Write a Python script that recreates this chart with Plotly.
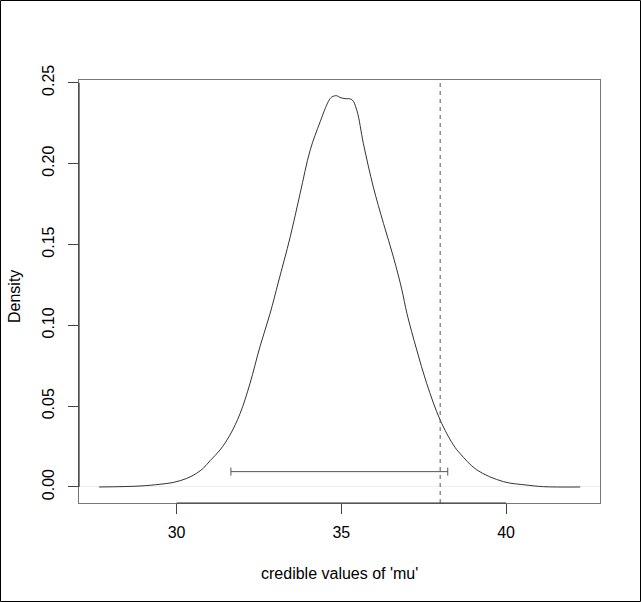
import plotly.graph_objects as go

# Density curve
mu_x = [27.65, 28.89, 29.50, 29.90, 30.31, 30.61, 30.81, 31.02, 31.32, 31.62,
        31.93, 32.23, 32.53, 32.84, 33.09, 33.45, 33.75, 34.05, 34.36, 34.61,
        34.71, 34.86, 34.96, 35.11, 35.32, 35.47, 35.67, 35.97, 36.28, 36.58,
        36.84, 36.99, 37.29, 37.59, 38.00, 38.40, 38.60, 39.11, 39.92, 40.63,
        41.13, 42.25]
density = [0.0000, 0.0006, 0.0017, 0.0028, 0.0053, 0.0085, 0.0116, 0.0163, 0.0229, 0.0321,
           0.0455, 0.0641, 0.0867, 0.1074, 0.1267, 0.1547, 0.1815, 0.2080, 0.2260, 0.2385,
           0.2412, 0.2420, 0.2409, 0.2402, 0.2396, 0.2330, 0.2124, 0.1856, 0.1630, 0.1423,
           0.1218, 0.1074, 0.0847, 0.0641, 0.0414, 0.0260, 0.0208, 0.0106, 0.0033, 0.0012,
           0.0002, 0.0000]

hdi_low = 31.65
hdi_high = 38.23
hdi_y = 0.0095
comp_value = 38.0

x_ticks = [30, 35, 40]
y_ticks = [0.00, 0.05, 0.10, 0.15, 0.20, 0.25]
y_tick_labels = ["0.00", "0.05", "0.10", "0.15", "0.20", "0.25"]

x_range = [27.04, 42.85]
y_range = [-0.0099, 0.2517]

W, H = 641, 602
L, R, T, B = 79, 41, 80, 99
PW, PH = W - L - R, H - T - B

FONT = "Liberation Sans, Arial, Helvetica, sans-serif"

fig = go.Figure()

fig.add_trace(go.Scatter(
    x=mu_x, y=density, mode="lines",
    line=dict(color="#333333", width=1, shape="spline", smoothing=1.0),
    hoverinfo="skip", showlegend=False))

hdi_mid = (hdi_low + hdi_high) / 2
fig.add_trace(go.Scatter(
    x=[hdi_mid], y=[hdi_y], mode="markers",
    marker=dict(size=1, opacity=0),
    error_x=dict(type="data", symmetric=False,
                 array=[hdi_high - hdi_mid], arrayminus=[hdi_mid - hdi_low],
                 color="#555555", thickness=1, width=4),
    hoverinfo="skip", showlegend=False))

shapes = []
# dashed comparison line spanning the plot area
shapes.append(dict(type="line", xref="x", yref="paper", x0=comp_value, x1=comp_value,
                   y0=0, y1=1, line=dict(color="#555555", width=1, dash="4px,4px")))
# axis segments between first and last ticks (R style)
shapes.append(dict(type="line", xref="x", yref="paper", x0=min(x_ticks), x1=max(x_ticks),
                   y0=0, y1=0, line=dict(color="#333333", width=1.2)))
shapes.append(dict(type="line", xref="paper", yref="y", x0=0, x1=0,
                   y0=min(y_ticks), y1=max(y_ticks), line=dict(color="#333333", width=1.2)))
# outer figure border
shapes.append(dict(type="rect", xref="paper", yref="paper",
                   x0=-(L - 0.5) / PW, x1=(W - 0.5 - L) / PW,
                   y0=-(B - 0.5) / PH, y1=(H - 0.5 - B) / PH,
                   line=dict(color="#000000", width=1), fillcolor="rgba(0,0,0,0)"))

annotations = [
    dict(text="credible values of 'mu'", xref="paper", yref="paper",
         x=0.5, y=-(573 - (H - B)) / PH, xanchor="center", yanchor="middle",
         showarrow=False, font=dict(family=FONT, size=16, color="#000000")),
    dict(text="Density", xref="paper", yref="paper",
         x=(14 - L) / PW, y=0.5 - (297 - (T + PH / 2)) / PH, xanchor="center", yanchor="middle",
         textangle=-90, showarrow=False, font=dict(family=FONT, size=16, color="#000000")),
]

fig.update_layout(
    width=W, height=H,
    margin=dict(l=L, r=R, t=T, b=B, pad=0),
    paper_bgcolor="white", plot_bgcolor="white",
    font=dict(family=FONT, size=16, color="#000000"),
    shapes=shapes, annotations=annotations,
    xaxis=dict(range=x_range, tickvals=x_ticks, ticktext=[str(v) for v in x_ticks],
               ticks="outside", ticklen=10, tickcolor="#444444", tickwidth=1,
               showgrid=False, zeroline=False,
               showline=True, mirror=True, linecolor="#777777", linewidth=1,
               ticklabelstandoff=5, tickfont=dict(family=FONT, size=16, color="#000000")),
    yaxis=dict(range=y_range, tickvals=y_ticks, ticktext=y_tick_labels,
               ticks="outside", ticklen=10, tickcolor="#444444", tickwidth=1,
               tickangle=-90,
               showgrid=False, zeroline=True, zerolinecolor="#eeeeee", zerolinewidth=1,
               showline=True, mirror=True, linecolor="#777777", linewidth=1,
               ticklabelstandoff=8, tickfont=dict(family=FONT, size=16, color="#000000")),
)

fig.write_html("out.html")
